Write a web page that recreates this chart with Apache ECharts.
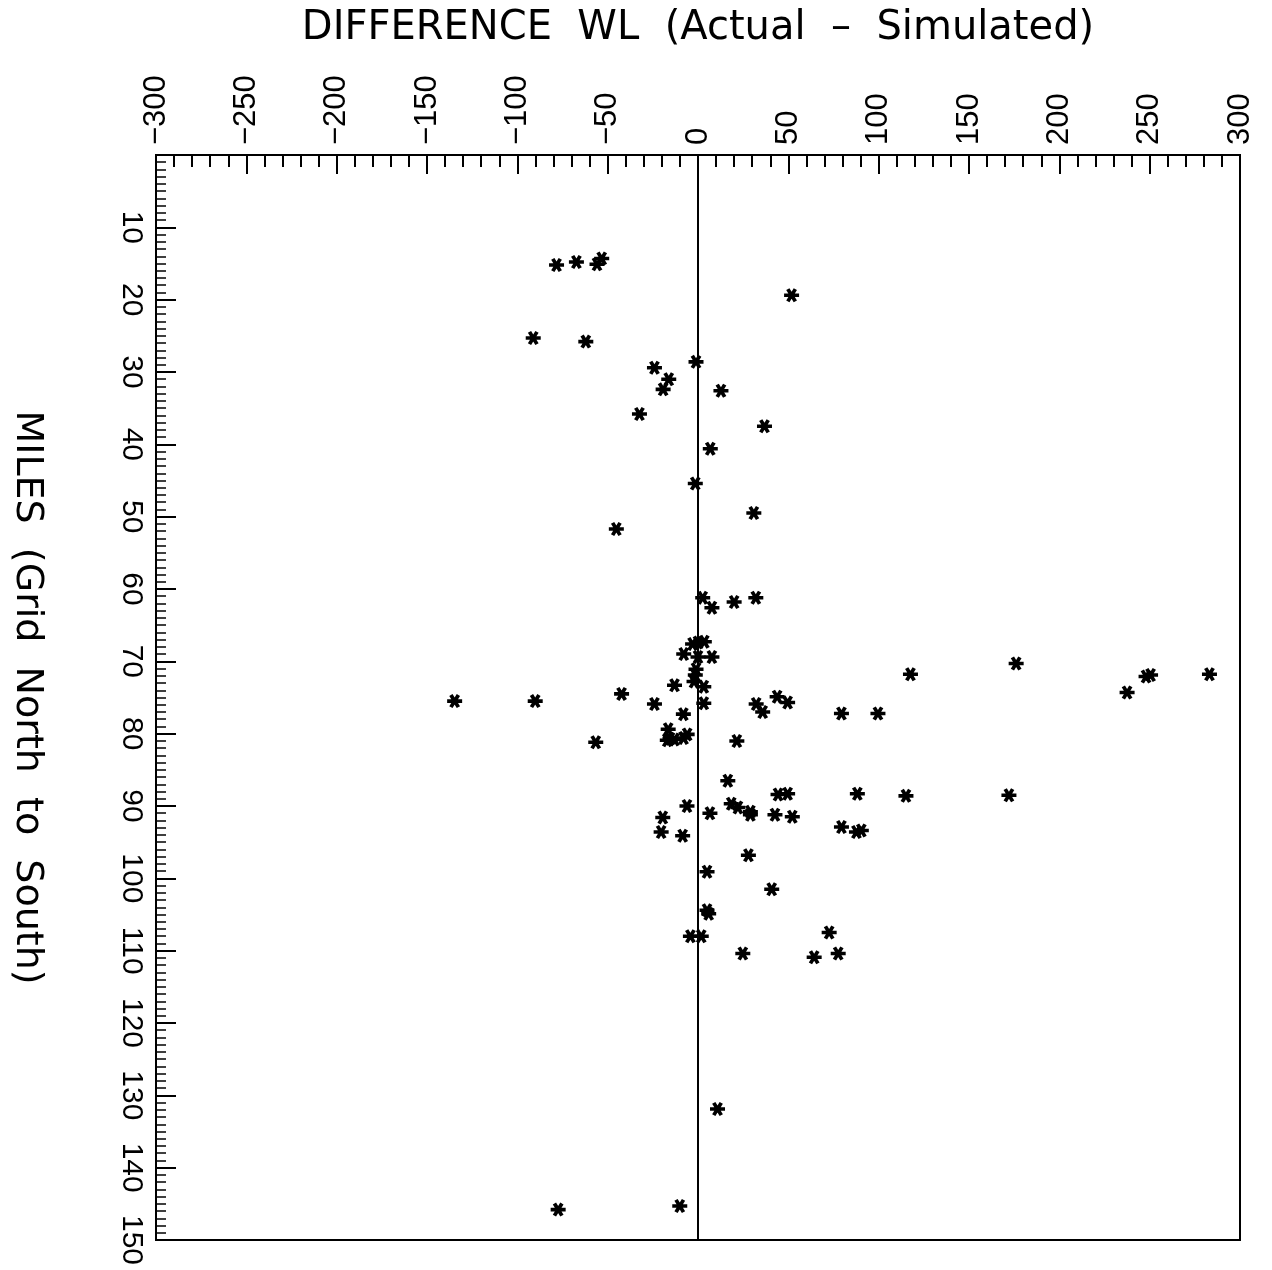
<!DOCTYPE html>
<html>
<head>
<meta charset="utf-8">
<script src="https://cdn.jsdelivr.net/npm/echarts@6/dist/echarts.min.js"></script>
<style>html,body{margin:0;padding:0;background:#fff}#chart{width:1272px;height:1270px}</style>
</head>
<body>
<div id="chart"></div>
<script>
// Difference in water level (Actual - Simulated)
var diffValues = [
  -78.3, -67.3, -55.9, -53.3, 51.8, -91.2, -62.1, -1.1, -24.1, -16.2,
  -19.3, 12.7, -32.4, 36.8, 6.8, -1.5, 30.9, -45.2, 2.6, 7.7,
  20.0, 32.0, -3.0, 0.0, 3.5, -7.9, 0.0, 7.7, -1.1, -1.5,
  -2.2, 3.2, -13.0, -42.3, -134.7, -90.1, -24.1, 3.2, -8.1, -16.5,
  -56.6, -17.0, -15.5, -13.0, -8.0, -6.0, 117.6, 176.1, 237.5, 248.0,
  250.5, 283.1, 32.2, 35.8, 43.8, 49.6, 79.4, 99.6, 21.5, 16.5,
  44.3, 49.6, 88.2, 115.1, 172.1, 18.4, 22.1, 29.0, 29.0, 6.6,
  42.6, 52.2, -6.1, -19.5, -20.4, -8.5, 79.4, 87.7, 90.4, 27.9,
  5.0, 40.8, 5.0, 5.9, -4.2, 1.8, 72.6, 24.8, 64.3, 77.6,
  10.8, -77.4, -10.1
];
// Miles (grid north to south)
var milesValues = [
  15.2, 14.8, 15.1, 14.3, 19.4, 25.3, 25.8, 28.6, 29.4, 31.0,
  32.4, 32.6, 35.8, 37.5, 40.6, 45.4, 49.5, 51.7, 61.2, 62.6,
  61.8, 61.2, 67.6, 67.4, 67.3, 69.0, 69.4, 69.4, 71.1, 71.9,
  72.8, 73.5, 73.3, 74.5, 75.5, 75.5, 75.9, 75.8, 77.3, 79.4,
  81.2, 80.9, 80.7, 80.8, 80.6, 80.1, 71.8, 70.3, 74.3, 72.1,
  71.9, 71.8, 75.9, 77.0, 74.9, 75.7, 77.2, 77.2, 81.0, 86.5,
  88.4, 88.3, 88.3, 88.6, 88.5, 89.7, 90.2, 90.8, 91.2, 91.0,
  91.2, 91.5, 90.0, 91.6, 93.6, 94.1, 92.9, 93.6, 93.4, 96.8,
  99.1, 101.5, 104.4, 104.9, 108.0, 108.0, 107.5, 110.4, 110.9, 110.4,
  131.9, 145.8, 145.3
];
var xTitle = 'DIFFERENCE  WL  (Actual  \u2013  Simulated)';
var yTitle = 'MILES  (Grid  North  to  South)';

var points = diffValues.map(function (d, i) { return [d, milesValues[i]]; });

// asterisk marker path (three crossing bars)
function asteriskPath() {
  var L = 6, t = 1.5, parts = [];
  [0, 60, 120].forEach(function (deg) {
    var a = deg * Math.PI / 180, c = Math.cos(a), s = Math.sin(a);
    var nx = -s, ny = c;
    var pts = [
      [L * c + t * nx, L * s + t * ny],
      [-L * c + t * nx, -L * s + t * ny],
      [-L * c - t * nx, -L * s - t * ny],
      [L * c - t * nx, L * s - t * ny]
    ];
    parts.push('M' + pts.map(function (p) { return p[0].toFixed(3) + ' ' + p[1].toFixed(3); }).join(' L') + ' Z');
  });
  return 'path://' + parts.join(' ');
}

function fmtTick(v) { return v < 0 ? '\u2212' + Math.abs(v) : String(v); }

var tickFont = 'Liberation Sans';
var chart = echarts.init(document.getElementById('chart'), null, { renderer: 'canvas' });
chart.setOption({
  animation: false,
  backgroundColor: '#ffffff',
  grid: { left: 152, top: 155, right: 32, bottom: 30, show: true, borderColor: '#000', borderWidth: 2, backgroundColor: 'transparent' },
  xAxis: {
    type: 'value', position: 'top', min: -300, max: 300, interval: 50,
    name: xTitle, nameLocation: 'middle', nameGap: 106,
    nameTextStyle: { fontFamily: 'DejaVu Sans', fontSize: 40, color: '#000' },
    axisLine: { show: true, onZero: false, lineStyle: { color: '#000', width: 2 } },
    axisTick: { show: true, inside: true, length: 19, lineStyle: { color: '#000', width: 2 } },
    minorTick: { show: true, splitNumber: 5, length: 12, lineStyle: { color: '#000', width: 2 } },
    axisLabel: { rotate: -90, margin: 10, fontFamily: tickFont, fontSize: 31, color: '#000', formatter: fmtTick },
    splitLine: { show: false }
  },
  yAxis: {
    type: 'value', inverse: true, min: 0, max: 150, interval: 10,
    name: yTitle, nameLocation: 'middle', nameGap: 110, nameRotate: -90,
    nameTextStyle: { fontFamily: 'DejaVu Sans', fontSize: 38, color: '#000' },
    axisLine: { show: true, onZero: false, lineStyle: { color: '#000', width: 2 } },
    axisTick: { show: true, inside: true, length: 20, lineStyle: { color: '#000', width: 2 } },
    minorTick: { show: true, splitNumber: 10, length: 10, lineStyle: { color: '#000', width: 1.5 } },
    axisLabel: {
      rotate: -90, margin: 10, fontFamily: tickFont, fontSize: 30, color: '#000',
      formatter: function (v) { return v === 0 ? '' : String(v); }
    },
    splitLine: { show: false }
  },
  series: [{
    type: 'scatter',
    data: points,
    symbol: asteriskPath(),
    symbolSize: [15, 14],
    itemStyle: { color: '#000', opacity: 1 },
    markLine: {
      silent: true, symbol: ['none', 'none'], label: { show: false },
      lineStyle: { color: '#000', width: 2, type: 'solid' },
      data: [{ xAxis: 0 }]
    }
  }]
});
</script>
</body>
</html>
